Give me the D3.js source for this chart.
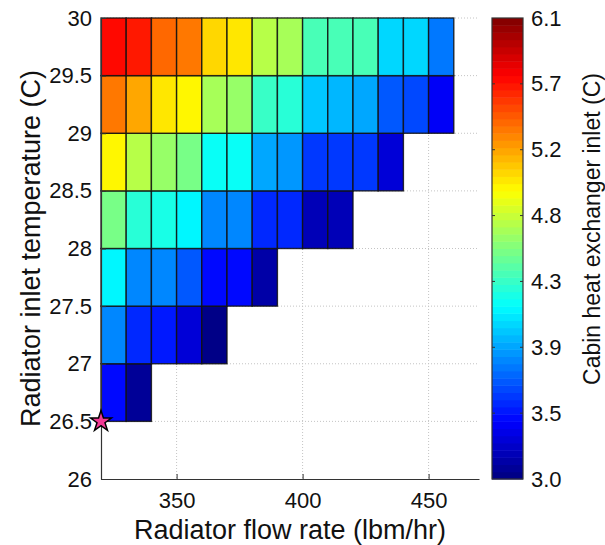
<!DOCTYPE html>
<html>
<head>
<meta charset="utf-8">
<script src="https://cdn.jsdelivr.net/npm/d3@7"></script>
<style>
  body { margin: 0; background: #fff; }
  text { font-family: "Liberation Sans", Arial, sans-serif; fill: #111; }
</style>
</head>
<body>
<svg id="chart" width="605" height="545"></svg>
<script>
// Cell left edges (lbm/hr) and bottom edges (C)
const flowRates = [320, 330, 340, 350, 360, 370, 380, 390, 400, 410, 420, 430, 440, 450];
const temps = [26.5, 27.0, 27.5, 28.0, 28.5, 29.0, 29.5];

// Cabin heat exchanger inlet (C), one row per temperature, starting at 320
const row265 = [3.42, 3.08];
const row270 = [3.82, 3.51, 3.45, 3.26, 3.04];
const row275 = [4.16, 3.82, 3.81, 3.67, 3.41, 3.41, 3.10];
const row280 = [4.54, 4.26, 4.22, 4.16, 3.82, 3.82, 3.51, 3.50, 3.18, 3.15];
const row285 = [4.94, 4.70, 4.61, 4.54, 4.21, 4.18, 3.92, 3.84, 3.58, 3.57, 3.56, 3.25];
const row290 = [5.33, 5.19, 5.02, 4.94, 4.65, 4.62, 4.32, 4.26, 3.97, 3.96, 3.91, 3.67, 3.60, 3.36];
const row295 = [5.71, 5.62, 5.38, 5.33, 5.06, 5.03, 4.70, 4.65, 4.40, 4.38, 4.37, 4.05, 4.05, 3.75];
const rows = [row265, row270, row275, row280, row285, row290, row295];

const xTicks = [350, 400, 450];
const yTicks = [26, 26.5, 27, 27.5, 28, 28.5, 29, 29.5, 30];
const cbTickLabels = ["3.0", "3.5", "3.9", "4.3", "4.8", "5.2", "5.7", "6.1"];
const cbDomain = [3.0, 6.1];
const optimum = { flow: 320, temp: 26.5 };

const svg = d3.select("#chart");
const pLeft = 101, pRight = 479, pTop = 18, pBottom = 479;

const x = d3.scaleLinear().domain([320, 470]).range([pLeft, pRight]);
const y = d3.scaleLinear().domain([26, 30]).range([pBottom, pTop]);

// jet colormap, 64 levels like MATLAB
const clamp = v => Math.max(0, Math.min(1, v));
const jet = t => d3.rgb(
  255 * clamp(1.5 - Math.abs(4 * t - 3)),
  255 * clamp(1.5 - Math.abs(4 * t - 2)),
  255 * clamp(1.5 - Math.abs(4 * t - 1))
).formatHex();
const nLevels = 64;
const jetColors = d3.range(nLevels).map(i => jet((i + 0.5) / nLevels));
const color = d3.scaleQuantize().domain(cbDomain).range(jetColors);

// Grid (dotted, below cells)
const grid = svg.append("g");
grid.selectAll("line.gx")
  .data(xTicks)
  .enter().append("line")
  .attr("x1", d => x(d)).attr("x2", d => x(d))
  .attr("y1", pTop).attr("y2", pBottom)
  .attr("stroke", "#c4c4c4").attr("stroke-dasharray", "1,2");
grid.selectAll("line.gy")
  .data(yTicks.slice(1))
  .enter().append("line")
  .attr("x1", pLeft).attr("x2", pRight)
  .attr("y1", d => y(d)).attr("y2", d => y(d))
  .attr("stroke", "#c4c4c4").attr("stroke-dasharray", "1,2");

// Cells
const cells = [];
rows.forEach((vals, i) => {
  vals.forEach((v, j) => cells.push({ flow: flowRates[j], temp: temps[i], value: v }));
});
svg.append("g").selectAll("rect")
  .data(cells)
  .enter().append("rect")
  .attr("x", d => x(d.flow))
  .attr("y", d => y(d.temp + 0.5))
  .attr("width", d => x(d.flow + 10) - x(d.flow))
  .attr("height", d => y(d.temp) - y(d.temp + 0.5))
  .attr("fill", d => color(d.value))
  .attr("stroke", "#111")
  .attr("stroke-opacity", 0.85)
  .attr("stroke-width", 1.4);

// Axes
const xAxis = svg.append("g")
  .attr("transform", `translate(0,${pBottom})`)
  .call(d3.axisBottom(x).tickValues(xTicks).tickSizeInner(-5).tickSizeOuter(0).tickPadding(13));
const yAxis = svg.append("g")
  .attr("transform", `translate(${pLeft},0)`)
  .call(d3.axisLeft(y).tickValues(yTicks).tickFormat(d3.format("")).tickSizeInner(-5).tickSizeOuter(0).tickPadding(9));
[xAxis, yAxis].forEach(g => {
  g.select(".domain").attr("stroke", "#333").attr("stroke-width", 1.2);
  g.selectAll(".tick line").attr("stroke", "#333");
  g.selectAll(".tick text")
    .attr("font-family", "Liberation Sans, Arial, sans-serif")
    .attr("font-size", 22).attr("fill", "#111");
});

// Optimum marker
svg.append("path")
  .attr("transform", `translate(${x(optimum.flow)},${y(optimum.temp)})`)
  .attr("d", d3.symbol().type(d3.symbolStar).size(135)())
  .attr("fill", "#f23a96")
  .attr("stroke", "#000")
  .attr("stroke-width", 1.5);

// Axis titles
svg.append("text")
  .attr("x", (pLeft + pRight) / 2)
  .attr("y", 539)
  .attr("text-anchor", "middle")
  .attr("font-size", 27)
  .text("Radiator flow rate (lbm/hr)");
svg.append("text")
  .attr("transform", `translate(39.5,${(pTop + pBottom) / 2}) rotate(-90)`)
  .attr("text-anchor", "middle")
  .attr("font-size", 27)
  .text("Radiator inlet temperature (C)");

// Colorbar
const cbLeft = 492, cbRight = 523;
const cbScale = d3.scaleLinear().domain(cbDomain).range([pBottom, pTop]);
const levelStep = (cbDomain[1] - cbDomain[0]) / nLevels;
svg.append("g").selectAll("rect")
  .data(jetColors)
  .enter().append("rect")
  .attr("x", cbLeft)
  .attr("y", (c, i) => cbScale(cbDomain[0] + (i + 1) * levelStep))
  .attr("width", cbRight - cbLeft)
  .attr("height", (c, i) => cbScale(cbDomain[0] + i * levelStep) - cbScale(cbDomain[0] + (i + 1) * levelStep) + 0.5)
  .attr("fill", c => c);
svg.append("rect")
  .attr("x", cbLeft).attr("y", pTop)
  .attr("width", cbRight - cbLeft).attr("height", pBottom - pTop)
  .attr("fill", "none").attr("stroke", "#333").attr("stroke-width", 1.2);

const cbTickVals = cbTickLabels.map((l, i) => cbDomain[0] + i * (cbDomain[1] - cbDomain[0]) / (cbTickLabels.length - 1));
const cbTicks = svg.append("g");
cbTickVals.slice(1, -1).forEach(v => {
  cbTicks.append("line").attr("x1", cbLeft).attr("x2", cbLeft + 3)
    .attr("y1", cbScale(v)).attr("y2", cbScale(v)).attr("stroke", "#333");
  cbTicks.append("line").attr("x1", cbRight - 3).attr("x2", cbRight)
    .attr("y1", cbScale(v)).attr("y2", cbScale(v)).attr("stroke", "#333");
});
const cbAxis = svg.append("g")
  .attr("transform", `translate(${cbRight},0)`)
  .call(d3.axisRight(cbScale).tickValues(cbTickVals)
    .tickFormat((d, i) => cbTickLabels[i]).tickSize(0).tickPadding(8));
cbAxis.select(".domain").remove();
cbAxis.selectAll(".tick text")
  .attr("font-family", "Liberation Sans, Arial, sans-serif")
  .attr("font-size", 22).attr("fill", "#111");

svg.append("text")
  .attr("transform", "translate(600,229) rotate(-90)")
  .attr("text-anchor", "middle")
  .attr("font-size", 23)
  .text("Cabin heat exchanger inlet (C)");
</script>
</body>
</html>
